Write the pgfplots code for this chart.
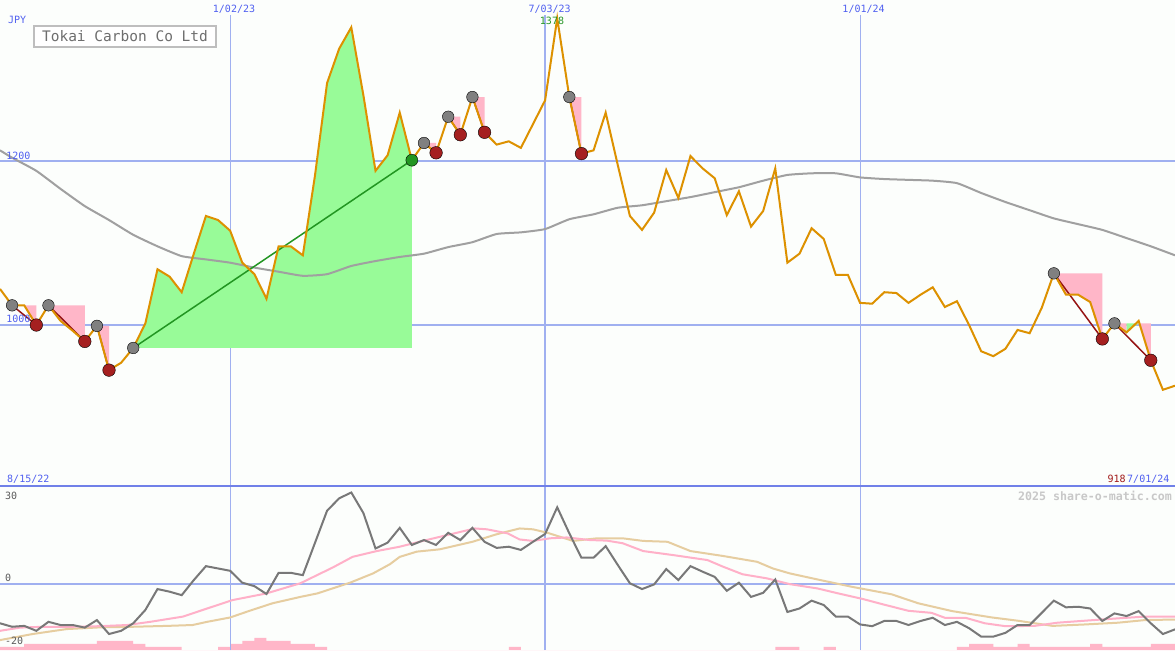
\documentclass[border=0pt]{standalone}
\usepackage{pgfplots}
\pgfplotsset{compat=1.18}
\usepackage{pgfplotstable}
\usepackage{fontspec}
\setmainfont{DejaVu Sans Mono}
\newcommand\fs[1]{\fontsize{#1}{#1}\selectfont}
\definecolor{bg}{RGB}{252,254,252}
\definecolor{gridb}{RGB}{160,176,240}
\definecolor{sepc}{RGB}{112,128,232}
\definecolor{txtb}{RGB}{80,96,240}
\definecolor{pricec}{RGB}{221,145,0}
\definecolor{mac}{RGB}{160,160,160}
\definecolor{gfill}{RGB}{152,251,152}
\definecolor{pfill}{RGB}{255,182,200}
\definecolor{gline}{RGB}{34,150,34}
\definecolor{rline}{RGB}{150,20,20}
\definecolor{rdot}{RGB}{165,32,32}
\definecolor{gdot}{RGB}{128,128,128}
\definecolor{mom}{RGB}{120,120,120}
\definecolor{pinkl}{RGB}{255,176,200}
\definecolor{tanl}{RGB}{230,205,160}
\definecolor{lbl}{RGB}{90,90,90}
\definecolor{wm}{RGB}{200,200,200}
\definecolor{titlec}{RGB}{110,110,110}
\definecolor{boxc}{RGB}{190,190,190}
\definecolor{redl}{RGB}{160,24,24}
\definecolor{greenl}{RGB}{40,150,40}

\pgfplotstableread{
i p
0 1044
1 1024
2 1024
3 1000
4 1024
5 1005
6 993
7 980
8 999
9 945
10 954
11 972
12 1002
13 1068
14 1059
15 1040
16 1087
17 1133
18 1128
19 1115
20 1076
21 1062
22 1032
23 1096
24 1096
25 1085
26 1182
27 1295
28 1337
29 1363
30 1280
31 1188
32 1207
33 1259
34 1201
35 1222
36 1210
37 1254
38 1232
39 1278
40 1235
41 1220
42 1224
43 1216
44 1245
45 1274
46 1374
47 1278
48 1209
49 1213
50 1259
51 1195
52 1133
53 1116
54 1137
55 1189
56 1155
57 1206
58 1191
59 1179
60 1134
61 1163
62 1120
63 1139
64 1191
65 1076
66 1087
67 1118
68 1105
69 1061
70 1061
71 1027
72 1026
73 1040
74 1039
75 1027
76 1037
77 1046
78 1022
79 1029
80 1000
81 968
82 962
83 971
84 994
85 990
86 1021
87 1063
88 1037
89 1037
90 1028
91 983
92 1002
93 991
94 1005
95 957
96 921
97 926
}\pricetab

\pgfplotstableread{
i m
0 1213
1 1204
3 1188
5 1166
7 1145
9 1128
11 1110
13 1096
15 1084
17 1080
19 1076
21 1070
23 1065
25 1060
27 1062
29 1072
31 1078
33 1083
35 1087
37 1095
39 1101
41 1111
43 1113
45 1117
47 1129
49 1135
51 1143
53 1146
55 1151
57 1156
59 1162
61 1168
63 1176
65 1183
67 1185
69 1185
71 1180
73 1178
75 1177
77 1176
79 1173
81 1161
83 1150
85 1140
87 1130
89 1123
91 1116
93 1106
95 1096
97 1085
}\matab

\pgfplotstableread{
i v
0 -13.7
1 -14.9
2 -14.6
3 -16.3
4 -13.2
5 -14.3
6 -14.3
7 -15.2
8 -12.6
9 -17.4
10 -16.3
11 -13.7
12 -9.1
13 -1.9
14 -2.8
15 -4.0
16 1.2
17 6.0
18 5.2
19 4.4
20 0.3
21 -0.9
22 -3.6
23 3.7
24 3.7
25 2.9
26 14.0
27 25.1
28 29.4
29 31.4
30 24.3
31 12.1
32 14.1
33 19.2
34 13.3
35 15.0
36 13.3
37 17.5
38 15.0
39 19.2
40 14.4
41 12.3
42 12.7
43 11.6
44 14.4
45 17.1
46 26.3
47 17.3
48 8.9
49 8.9
50 12.9
51 6.4
52 0.1
53 -1.9
54 -0.3
55 5.0
56 1.2
57 6.0
58 4.1
59 2.3
60 -2.5
61 0.3
62 -4.6
63 -3.2
64 1.4
65 -9.8
66 -8.6
67 -5.9
68 -7.4
69 -11.4
70 -11.4
71 -14.1
72 -14.7
73 -12.9
74 -12.9
75 -14.3
76 -12.9
77 -11.8
78 -14.3
79 -13.2
80 -15.4
81 -18.3
82 -18.3
83 -17.0
84 -14.3
85 -14.3
86 -10.1
87 -5.9
88 -8.2
89 -8.0
90 -8.6
91 -12.9
92 -10.3
93 -11.2
94 -9.5
95 -13.7
96 -17.4
97 -15.8
}\momtab

\pgfplotstableread{
i v
0 -16.3
1.65 -15.2
3.55 -14.9
6.03 -14.9
8.26 -14.7
10.5 -14.3
12.4 -13.2
15.1 -11.4
17.1 -8.6
19.2 -5.7
22.0 -3.4
24.8 0.1
27.5 5.6
29.1 9.2
31.1 11.2
33.0 12.7
34.9 14.7
37.2 17.0
39.2 19.0
40.2 18.7
41.9 17.3
42.9 15.2
44.0 14.7
45.4 15.6
46.8 15.9
48.7 15.0
50.1 14.8
51.4 13.9
53.1 11.2
55.6 9.8
58.4 8.1
59.7 5.8
61.3 3.2
63.3 1.8
65.2 -0.2
67.5 -1.7
69.2 -3.4
71.2 -5.3
73.1 -7.4
75.0 -9.4
76.9 -10.1
78.0 -11.8
79.7 -11.8
81.3 -13.7
83.0 -14.7
85.4 -14.6
87.3 -13.5
89.6 -12.8
92.3 -12.0
94.5 -11.4
97 -11.4
}\pinktab

\pgfplotstableread{
i v
0 -19.5
2.7 -17.4
5.5 -15.7
8.3 -15.1
11.0 -14.9
13.8 -14.6
15.9 -14.3
17.1 -13.2
19.0 -11.7
20.6 -9.4
22.5 -6.8
24.8 -4.6
26.2 -3.4
28.9 0.3
30.8 3.5
32.2 6.7
33.0 9.2
34.4 11.0
36.3 11.8
39.0 14.4
41.0 17.0
42.9 19.0
44.0 18.7
45.2 17.5
47.3 14.7
49.3 15.6
51.4 15.6
53.1 14.7
55.1 14.4
57.0 11.2
59.7 9.5
62.5 7.5
63.8 5.2
65.2 3.5
67.5 1.4
70.3 -1.1
73.6 -3.7
75.8 -6.8
78.6 -9.5
81.9 -11.7
84.0 -12.8
86.9 -14.6
89.6 -14.1
92.3 -13.5
94.5 -12.6
97 -12.4
}\tantab

\begin{document}
\begin{tikzpicture}
\pgfplotsset{base/.style={scale only axis, width=1175pt, xmin=0, xmax=97,
  axis line style={draw=none}, ticks=none}}

% ---- lower panel: bars ----
\begin{axis}[base, at={(0pt,0pt)}, anchor=south west, height=163pt,
  ymin=0, ymax=53.4, axis background/.style={fill=bg}]
\addplot[const plot, fill=pfill, draw=none] coordinates {
(0,1) (2,2) (8,3) (11,2) (12,1) (15,0) (18,1) (19,2) (20,3) (21,4) (22,3)
(24,2) (26,1) (27,0) (42,1) (43,0) (64,1) (66,0) (68,1) (69,0) (79,1) (80,2)
(82,1) (84,2) (85,1) (90,2) (91,1) (95,2) (97,2)} \closedcycle;
\end{axis}

% ---- lower panel: lines ----
\begin{axis}[base, at={(0pt,0pt)}, anchor=south west, height=163pt,
  ymin=-22.93, ymax=33.28]
\draw[gridb, line width=2pt] (0,0) -- (97,0);
\draw[gridb, line width=1pt] (19,-22.93) -- (19,33.28);
\draw[gridb, line width=2pt] (45,-22.93) -- (45,33.28);
\draw[gridb, line width=1pt] (71,-22.93) -- (71,33.28);
\addplot[tanl, line width=2pt] table[x=i,y=v]{\tantab};
\addplot[pinkl, line width=2pt] table[x=i,y=v]{\pinktab};
\addplot[mom, line width=2pt] table[x=i,y=v]{\momtab};
\node[anchor=west, text=lbl, inner sep=0pt, font=\fs{10pt}] at (0.41,30.2) {30};
\node[anchor=west, text=lbl, inner sep=0pt, font=\fs{10pt}] at (0.41,1.9) {0};
\node[anchor=west, text=lbl, inner sep=0pt, font=\fs{10pt}] at (0.41,-19.8) {-20};
\node[anchor=east, text=wm, inner sep=0pt, font=\fs{11.6pt}\bfseries] at (96.75,30.2) {2025 share-o-matic.com};
\end{axis}

% ---- main panel ----
\begin{axis}[base, at={(0pt,163pt)}, anchor=south west, height=487pt,
  ymin=802.44, ymax=1396.34, axis background/.style={fill=bg}]
% grid
\draw[gridb, line width=2pt] (0,1200) -- (97,1200);
\draw[gridb, line width=2pt] (0,1000) -- (97,1000);
\draw[gridb, line width=1pt] (19,1378) -- (19,802.44);
\draw[gridb, line width=2pt] (45,1378) -- (45,802.44);
\draw[gridb, line width=1pt] (71,1378) -- (71,802.44);
\draw[sepc, line width=2.2pt] (0,803.6) -- (97,803.6);
% entry markers (beneath the filled areas)
\addplot[only marks, mark=*, mark size=5.8pt, mark options={fill=gdot, draw=none}]
 coordinates {(1,1024) (4,1024) (8,999) (11,972) (35,1222) (37,1254) (39,1278) (47,1278) (87,1063) (92,1002)};
% gain area
\addplot[fill=gfill, draw=none] coordinates {(11,972) (12,1002) (13,1068) (14,1059)
 (15,1040) (16,1087) (17,1133) (18,1128) (19,1115) (20,1076) (21,1062) (22,1032)
 (23,1096) (24,1096) (25,1085) (26,1182) (27,1295) (28,1337) (29,1363) (30,1280)
 (31,1188) (32,1207) (33,1259) (34,1201) (34,972)} -- cycle;
% loss areas
\addplot[fill=pfill, draw=none] coordinates {(1,1024) (2,1024) (3,1000) (3,1024)} -- cycle;
\addplot[fill=pfill, draw=none] coordinates {(4,1024) (5,1005) (6,993) (7,980) (7,1024)} -- cycle;
\addplot[fill=pfill, draw=none] coordinates {(8,999) (9,945) (9,999)} -- cycle;
\addplot[fill=pfill, draw=none] coordinates {(35,1222) (36,1210) (36,1222)} -- cycle;
\addplot[fill=pfill, draw=none] coordinates {(37,1254) (38,1232) (38,1254)} -- cycle;
\addplot[fill=pfill, draw=none] coordinates {(39,1278) (40,1235) (40,1278)} -- cycle;
\addplot[fill=pfill, draw=none] coordinates {(47,1278) (48,1209) (48,1278)} -- cycle;
\addplot[fill=pfill, draw=none] coordinates {(87,1063) (88,1037) (89,1037) (90,1028) (91,983) (91,1063)} -- cycle;
\addplot[fill=pfill, draw=none] coordinates {(92,1002) (93,991) (93,1002)} -- cycle;
\addplot[fill=gfill, draw=none] coordinates {(93,1002) (93,991) (94,1002)} -- cycle;
\addplot[fill=pfill, draw=none] coordinates {(94,1002) (95,957) (95,1002)} -- cycle;
% moving average
\addplot[mac, line width=2pt, smooth, tension=0.3] table[x=i,y=m]{\matab};
% trade lines
\addplot[gline, line width=1.5pt] coordinates {(11,972) (34,1201)};
\addplot[rline, line width=1.5pt] coordinates {(1,1024) (3,1000)};
\addplot[rline, line width=1.5pt] coordinates {(4,1024) (7,980)};
\addplot[rline, line width=1.5pt] coordinates {(8,999) (9,945)};
\addplot[rline, line width=1.5pt] coordinates {(35,1222) (36,1210)};
\addplot[rline, line width=1.5pt] coordinates {(37,1254) (38,1232)};
\addplot[rline, line width=1.5pt] coordinates {(39,1278) (40,1235)};
\addplot[rline, line width=1.5pt] coordinates {(47,1278) (48,1209)};
\addplot[rline, line width=1.5pt] coordinates {(87,1063) (91,983)};
\addplot[rline, line width=1.5pt] coordinates {(92,1002) (95,957)};
% exit markers
\addplot[only marks, mark=*, mark size=6.3pt, mark options={fill=rdot, draw=none}]
 coordinates {(3,1000) (7,980) (9,945) (36,1210) (38,1232) (40,1235) (48,1209) (91,983) (95,957)};
\addplot[only marks, mark=*, mark size=6pt, mark options={fill=gline, draw=none}]
 coordinates {(34,1201)};
% price
\addplot[pricec, line width=2pt] table[x=i,y=p]{\pricetab};
% labels
\node[anchor=west, text=txtb, inner sep=0pt, font=\fs{10pt}] at (0.66,1372) {JPY};
\node[anchor=west, text=txtb, inner sep=0pt, font=\fs{10pt}] at (0.5,1206.7) {1200};
\node[anchor=west, text=txtb, inner sep=0pt, font=\fs{10pt}] at (0.5,1007.3) {1000};
\node[text=txtb, inner sep=0pt, font=\fs{10pt}] at (19.32,1385.4) {1/02/23};
\node[text=txtb, inner sep=0pt, font=\fs{10pt}] at (45.37,1385.4) {7/03/23};
\node[text=txtb, inner sep=0pt, font=\fs{10pt}] at (71.29,1385.4) {1/01/24};
\node[text=greenl, inner sep=0pt, font=\fs{10pt}] at (45.57,1370.7) {1378};
\node[anchor=west, text=txtb, inner sep=0pt, font=\fs{10pt}] at (0.58,812.2) {8/15/22};
\node[anchor=east, text=txtb, inner sep=0pt, font=\fs{10pt}] at (96.55,812.2) {7/01/24};
\node[anchor=east, text=redl, inner sep=0pt, font=\fs{10pt}] at (92.95,812.2) {918};
\node[fill=white, draw=boxc, line width=2pt, minimum width=182pt, minimum height=21pt,
  inner sep=0pt, text=titlec, font=\fs{14.5pt}] at (10.32,1351.8) {Tokai Carbon Co Ltd};
\end{axis}
\end{tikzpicture}
\end{document}
